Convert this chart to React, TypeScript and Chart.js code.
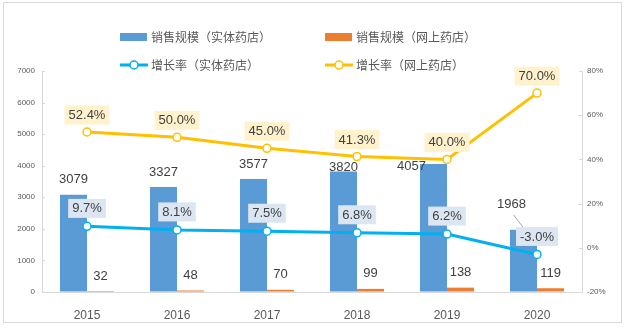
import React, { useEffect, useRef } from "react";
import { Chart, registerables } from "chart.js";

Chart.register(...registerables);

// ---- data ----
const years = ["2015", "2016", "2017", "2018", "2019", "2020"];
const physicalSales = [3079, 3327, 3577, 3820, 4057, 1968];
const onlineSales = [32, 48, 70, 99, 138, 119];
const physicalGrowth = [9.7, 8.1, 7.5, 6.8, 6.2, -3.0];
const onlineGrowth = [52.4, 50.0, 45.0, 41.3, 40.0, 70.0];
const seriesNames = [
  "销售规模（实体药店）",
  "销售规模（网上药店）",
  "增长率（实体药店）",
  "增长率（网上药店）",
];
const leftAxis = { min: 0, max: 7000, step: 1000 };
const rightAxis = { min: -20, max: 80, step: 20 };

// ---- styles ----
const FONT = '"Noto Sans CJK SC", "Liberation Sans", sans-serif';
const NUM_FONT = '"Liberation Sans", "Noto Sans CJK SC", sans-serif';
const BLUE_BAR = "#5b9bd5";
const ORANGE_BAR = "#ed7d31";
const BLUE_LINE = "#00b0f0";
const YELLOW_LINE = "#ffc000";
const TEXT = "#404040";
const AXIS = "#d9d9d9";
// manual label nudges (like Excel's dragged labels) for the physical-store bar values
const BAR_LABEL_NUDGE: [number, number][] = [
  [0, 0], [0, 0], [0, 0], [0, 11], [-22, 18], [-12, -10],
];

const overlayPlugin = {
  id: "overlay",
  afterDatasetsDraw(chart: any) {
    const ctx = chart.ctx as CanvasRenderingContext2D;
    ctx.save();
    ctx.textAlign = "center";
    ctx.textBaseline = "middle";
    ctx.font = `13px ${NUM_FONT}`;
    // bar value labels
    [0, 1].forEach((di) => {
      const meta = chart.getDatasetMeta(di);
      meta.data.forEach((el: any, i: number) => {
        const v = chart.data.datasets[di].data[i];
        let x = el.x;
        let y = el.y - 15;
        if (di === 0) {
          x += BAR_LABEL_NUDGE[i][0];
          y += BAR_LABEL_NUDGE[i][1];
          if (i === meta.data.length - 1) {
            ctx.strokeStyle = "#a6a6a6";
            ctx.lineWidth = 1;
            ctx.beginPath();
            ctx.moveTo(x + 2, y + 10);
            ctx.lineTo(el.x, el.y - 2);
            ctx.stroke();
          }
        }
        ctx.fillStyle = TEXT;
        ctx.fillText(String(v), x, y);
      });
    });
    // growth labels with boxes
    [
      { di: 2, bg: "#dce6f2", off: 18 },
      { di: 3, bg: "#fff2cc", off: 17 },
    ].forEach(({ di, bg, off }) => {
      const meta = chart.getDatasetMeta(di);
      meta.data.forEach((el: any, i: number) => {
        const v = chart.data.datasets[di].data[i] as number;
        const txt = v.toFixed(1) + "%";
        const w = ctx.measureText(txt).width + 8;
        const h = 19;
        const cx = el.x;
        const cy = el.y - off;
        ctx.fillStyle = bg;
        ctx.fillRect(cx - w / 2, cy - h / 2, w, h);
        ctx.fillStyle = TEXT;
        ctx.fillText(txt, cx, cy + 0.5);
      });
    });
    ctx.restore();
  },
  afterDraw(chart: any) {
    const ctx = chart.ctx as CanvasRenderingContext2D;
    const area = chart.chartArea;
    ctx.save();
    // outer border
    ctx.strokeStyle = AXIS;
    ctx.lineWidth = 1;
    ctx.strokeRect(3.5, 2.5, 618, 320);
    // inner tick marks
    const yl = chart.scales.y;
    const yr = chart.scales.y1;
    ctx.beginPath();
    yl.ticks.forEach((_t: any, i: number) => {
      const p = Math.round(yl.getPixelForTick(i)) + 0.5;
      ctx.moveTo(area.left, p);
      ctx.lineTo(area.left + 3, p);
    });
    yr.ticks.forEach((_t: any, i: number) => {
      const p = Math.round(yr.getPixelForTick(i)) + 0.5;
      ctx.moveTo(area.right - 3, p);
      ctx.lineTo(area.right, p);
    });
    ctx.stroke();
    // legend
    const cols = [120, 325];
    const rows = [37, 65];
    ctx.font = `12px ${FONT}`;
    ctx.textBaseline = "middle";
    ctx.textAlign = "left";
    chart.data.datasets.forEach((ds: any, i: number) => {
      const x = cols[i % 2];
      const y = rows[Math.floor(i / 2)];
      if (ds.type === "bar") {
        ctx.fillStyle = ds.backgroundColor;
        ctx.fillRect(x, y - 4, 27, 8);
      } else {
        ctx.strokeStyle = ds.borderColor;
        ctx.lineWidth = 3;
        ctx.beginPath();
        ctx.moveTo(x, y);
        ctx.lineTo(x + 28, y);
        ctx.stroke();
        ctx.fillStyle = "#ffffff";
        ctx.lineWidth = 1.5;
        ctx.beginPath();
        ctx.arc(x + 14, y, 4, 0, Math.PI * 2);
        ctx.fill();
        ctx.stroke();
      }
      ctx.fillStyle = "#595959";
      ctx.fillText(ds.label, x + 31, y);
    });
    ctx.restore();
  },
};

export default function App() {
  const ref = useRef<HTMLCanvasElement | null>(null);
  useEffect(() => {
    document.body.style.margin = "0";
    if (!ref.current) return;
    const chart = new Chart(ref.current, {
      type: "bar",
      data: {
        labels: years,
        datasets: [
          {
            type: "bar",
            label: seriesNames[0],
            data: physicalSales,
            backgroundColor: BLUE_BAR,
            yAxisID: "y",
            order: 2,
            categoryPercentage: 0.6,
            barPercentage: 1,
          },
          {
            type: "bar",
            label: seriesNames[1],
            data: onlineSales,
            backgroundColor: ORANGE_BAR,
            yAxisID: "y",
            order: 2,
            categoryPercentage: 0.6,
            barPercentage: 1,
          },
          {
            type: "line",
            label: seriesNames[2],
            data: physicalGrowth,
            borderColor: BLUE_LINE,
            backgroundColor: "#ffffff",
            borderWidth: 3,
            pointRadius: 4,
            pointBorderWidth: 1.5,
            pointBackgroundColor: "#ffffff",
            pointBorderColor: BLUE_LINE,
            yAxisID: "y1",
            order: 0,
            tension: 0,
          },
          {
            type: "line",
            label: seriesNames[3],
            data: onlineGrowth,
            borderColor: YELLOW_LINE,
            backgroundColor: "#ffffff",
            borderWidth: 3,
            pointRadius: 4,
            pointBorderWidth: 1.5,
            pointBackgroundColor: "#ffffff",
            pointBorderColor: YELLOW_LINE,
            yAxisID: "y1",
            order: 1,
            tension: 0,
          },
        ] as any,
      },
      options: {
        animation: false,
        responsive: true,
        maintainAspectRatio: false,
        layout: { padding: { top: 71, left: 0, right: 0, bottom: 0 } },
        plugins: {
          legend: { display: false },
          tooltip: { enabled: false },
          title: { display: false },
        },
        scales: {
          x: {
            grid: { display: false },
            border: { display: true, color: AXIS, width: 1 },
            ticks: {
              color: "#595959",
              font: { family: NUM_FONT, size: 12 },
              padding: 8,
            },
            afterFit: (s: any) => {
              s.height = 37;
            },
          },
          y: {
            position: "left",
            min: leftAxis.min,
            max: leftAxis.max,
            grid: { display: true, drawOnChartArea: false, drawTicks: false },
            border: { display: true, color: AXIS, width: 1 },
            ticks: {
              stepSize: leftAxis.step,
              color: "#595959",
              font: { family: NUM_FONT, size: 8 },
              padding: 7,
              callback: (v: any) => String(v),
            },
            afterFit: (s: any) => {
              s.width = 42;
            },
          },
          y1: {
            position: "right",
            min: rightAxis.min,
            max: rightAxis.max,
            grid: { display: true, drawOnChartArea: false, drawTicks: false },
            border: { display: true, color: AXIS, width: 1 },
            ticks: {
              stepSize: rightAxis.step,
              color: "#595959",
              font: { family: NUM_FONT, size: 8 },
              padding: 5,
              callback: (v: any) => `${v}%`,
            },
            afterFit: (s: any) => {
              s.width = 43;
            },
          },
        },
      } as any,
      plugins: [overlayPlugin],
    });
    return () => chart.destroy();
  }, []);
  return (
    <div style={{ position: "relative", width: 625, height: 329 }}>
      <canvas ref={ref} />
    </div>
  );
}
